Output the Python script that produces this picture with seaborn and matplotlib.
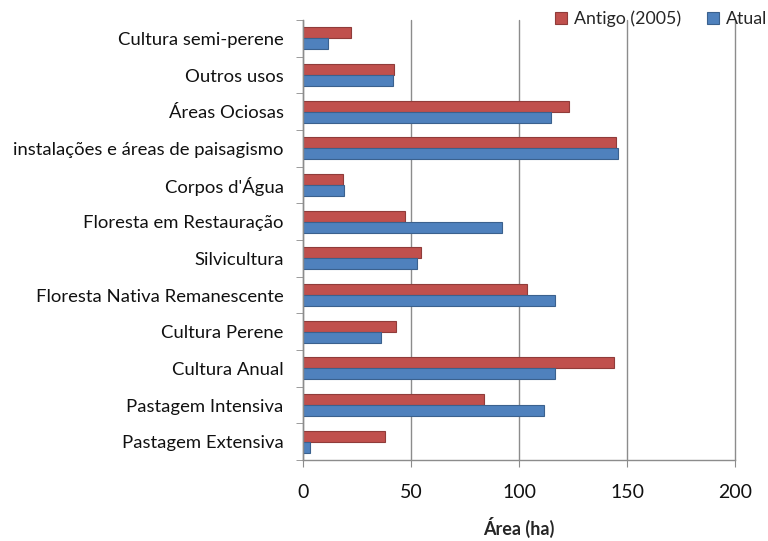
import pandas as pd
import matplotlib
matplotlib.use("Agg")
import matplotlib.pyplot as plt
import seaborn as sns

# categories, top to bottom as in the chart
categorias = [
    "Cultura semi-perene",
    "Outros usos",
    "Áreas Ociosas",
    "instalações e áreas de paisagismo",
    "Corpos d'Água",
    "Floresta em Restauração",
    "Silvicultura",
    "Floresta Nativa Remanescente",
    "Cultura Perene",
    "Cultura Anual",
    "Pastagem Intensiva",
    "Pastagem Extensiva",
]
antigo_2005 = [22.4, 42.3, 123.2, 145.1, 18.7, 47.1, 54.6, 103.7, 43.0, 144.2, 84.0, 37.8]
atual = [11.7, 41.8, 115.0, 146.0, 19.2, 92.3, 52.9, 116.5, 36.3, 116.7, 111.7, 3.4]
series = ["Antigo (2005)", "Atual"]
x_ticks = [0, 50, 100, 150, 200]

df = pd.DataFrame({
    "categoria": categorias * 2,
    "area": antigo_2005 + atual,
    "serie": [series[0]] * len(categorias) + [series[1]] * len(categorias),
})

sns.set_style("white")
plt.rcParams["font.family"] = ["Lato", "DejaVu Sans"]

fig = plt.figure(figsize=(7.68, 5.41), dpi=100)
ax = fig.add_axes([0.3945, 0.1497, 0.5625, 0.8133])

cores = {"Antigo (2005)": "#C0504D", "Atual": "#4F81BD"}
sns.barplot(data=df, y="categoria", x="area", hue="serie", order=categorias,
            hue_order=series, palette=cores, orient="h", width=0.6,
            saturation=1, ax=ax, legend=True)

for patch in ax.patches:
    fc = patch.get_facecolor()
    patch.set_edgecolor((fc[0] * 0.75, fc[1] * 0.75, fc[2] * 0.75, 1))
    patch.set_linewidth(0.8)

ax.set_xlim(0, 200)
ax.set_xticks(x_ticks)
ax.xaxis.grid(True, color="#8c8c8c", linewidth=1)
for gl in ax.get_xgridlines():
    gl.set_clip_on(False)
ax.set_axisbelow(True)
ax.set_ylabel("")
ax.set_xlabel("Área (ha)", fontsize=13, fontweight="bold", labelpad=12)

ax.tick_params(axis="x", labelsize=14, length=5, direction="out", color="#8c8c8c",
               pad=12, labelcolor="#111111", bottom=True)
ax.tick_params(axis="y", labelsize=13.3, length=5, direction="out", color="#8c8c8c",
               pad=14, labelcolor="#111111", left=True)
# ticks between categories like Excel
ax.set_yticks([i - 0.5 for i in range(len(categorias) + 1)], minor=True)
ax.tick_params(axis="y", which="major", length=0)
ax.tick_params(axis="y", which="minor", length=5, color="#8c8c8c", left=True)
ax.set_ylim(len(categorias) - 0.5, -0.5)

for side in ["top", "right"]:
    ax.spines[side].set_visible(False)
for side in ["left", "bottom"]:
    ax.spines[side].set_color("#8c8c8c")
    ax.spines[side].set_linewidth(1)

handles, labels = ax.get_legend_handles_labels()
ax.legend_.remove()
fig.legend(handles, labels, loc="upper right", bbox_to_anchor=(1.013, 1.0), ncol=2,
           frameon=False, fontsize=12.8, handlelength=0.7, handleheight=0.7,
           handletextpad=0.4, columnspacing=1.4, borderaxespad=0.2)

fig.savefig("out.png", dpi=100)
